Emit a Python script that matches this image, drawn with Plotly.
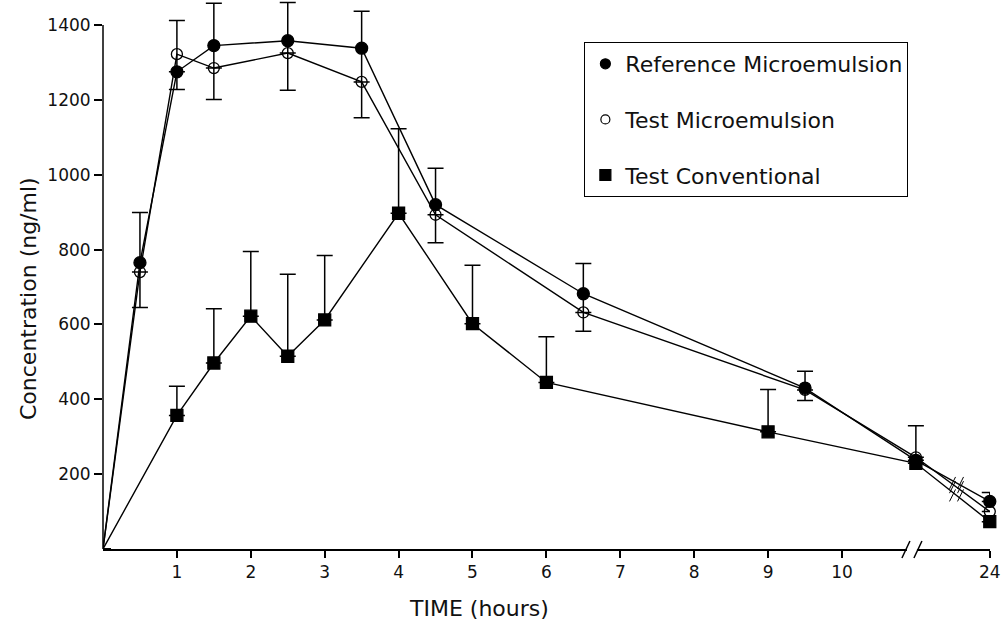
import plotly.graph_objects as go
import numpy as np

# ---------------- data ----------------
ref_time = [0, 0.5, 1, 1.5, 2.5, 3.5, 4.5, 6.5, 9.5, 12, 24]
ref_conc = [0, 765, 1275, 1345, 1358, 1338, 920, 682, 430, 237, 127]
ref_err_up = [0, 134, 0, 113, 102, 99, 97, 81, 45, 0, 24]
ref_err_down = [0, 120, 0, 144, 132, 186, 102, 100, 33, 0, 0]

test_time = [0, 0.5, 1, 1.5, 2.5, 3.5, 4.5, 6.5, 9.5, 12, 24]
test_conc = [0, 740, 1322, 1285, 1325, 1248, 893, 632, 425, 245, 100]
test_err_up = [0, 0, 90, 0, 0, 0, 0, 0, 0, 0, 0]
test_err_down = [0, 0, 94, 0, 0, 0, 0, 0, 0, 0, 0]

conv_time = [0, 1, 1.5, 2, 2.5, 3, 4, 5, 6, 9, 12, 24]
conv_conc = [0, 357, 497, 622, 515, 612, 897, 602, 445, 313, 229, 73]
conv_err_up = [0, 78, 145, 173, 219, 172, 226, 156, 122, 113, 100, 0]
conv_err_down = [0] * 12

tick_hours = [1, 2, 3, 4, 5, 6, 7, 8, 9, 10, 24]
tick_labels = ["1", "2", "3", "4", "5", "6", "7", "8", "9", "10", "24"]
y_ticks = [200, 400, 600, 800, 1000, 1200, 1400]
y_axis_max = 1400

series_names = ["Reference Microemulsion", "Test Microemulsion", "Test Conventional"]


# broken time axis: 0-10 h linear, 10-12 h compressed, 12-24 h compressed
def axis_pos(t):
    t = np.asarray(t, dtype=float)
    return np.where(t <= 10, t, np.where(t <= 12, 10 + (t - 10) / 2, 11 + (t - 12) / 12))


FONT = "DejaVu Sans"
TXT = "#111111"

fig = go.Figure()

err_style = dict(type="data", symmetric=False, color="black", thickness=1.5, width=8)

traces = [
    (ref_time, ref_conc, ref_err_up, ref_err_down, "circle", "black", 12),
    (test_time, test_conc, test_err_up, test_err_down, "circle-open", "black", 11),
    (conv_time, conv_conc, conv_err_up, conv_err_down, "square", "black", 12),
]

for (t, c, eu, ed, sym, col, sz), name in zip(traces, series_names):
    # no marker drawn at the origin (time 0)
    sizes = [0 if tv == 0 else sz for tv in t]
    fig.add_trace(go.Scatter(
        x=axis_pos(t), y=c, mode="lines+markers", name=name, showlegend=False,
        line=dict(color="black", width=1.4),
        marker=dict(symbol=sym, size=sizes, color=col, opacity=1,
                    line=dict(color="black", width=1.3)),
        error_y=dict(array=eu, arrayminus=ed, **err_style),
        cliponaxis=False,
    ))

# legend-only entries (marker only)
leg_syms = [("circle", 10), ("circle-open", 9), ("square", 11)]
for i, (name, (sym, sz)) in enumerate(zip(series_names, leg_syms)):
    fig.add_trace(go.Scatter(
        x=[None], y=[None], mode="markers", name=name, legendgroup=f"g{i}",
        marker=dict(symbol=sym, size=sz, color="black", opacity=1,
                    line=dict(color="black", width=1.2)),
    ))

shapes = []
# y axis line ending at the top tick
shapes.append(dict(type="line", xref="paper", yref="y", x0=0, x1=0, y0=0, y1=y_axis_max,
                   line=dict(color="black", width=1.5), layer="above"))
# axis break marks on x-axis
brk_x = 0.912
shapes.append(dict(type="rect", xref="paper", yref="paper", xsizemode="pixel", ysizemode="pixel",
                   xanchor=brk_x, yanchor=0, x0=-5, x1=5, y0=-3, y1=3,
                   fillcolor="white", line=dict(width=0), layer="above"))
for dx in (-6, 6):
    shapes.append(dict(type="line", xref="paper", yref="paper", xsizemode="pixel", ysizemode="pixel",
                       xanchor=brk_x, yanchor=0, x0=dx - 4, x1=dx + 4, y0=-9, y1=8,
                       line=dict(color="black", width=1.5), layer="above"))

# break marks on the data lines between 12 h and 24 h
brk_pos = 11.55
for t, c in [(ref_time, ref_conc), (test_time, test_conc), (conv_time, conv_conc)]:
    yv = float(np.interp(brk_pos, axis_pos(t), c))
    for dx in (-4, 4):
        shapes.append(dict(type="line", xref="x", yref="y", xsizemode="pixel", ysizemode="pixel",
                           xanchor=brk_pos, yanchor=yv, x0=dx - 3, x1=dx + 3, y0=-6, y1=6,
                           line=dict(color="black", width=1), layer="above"))

fig.update_layout(
    width=1002, height=625,
    margin=dict(l=103, r=9, t=1, b=76),
    paper_bgcolor="white", plot_bgcolor="white",
    font=dict(family=FONT, color=TXT),
    showlegend=True,
    legend=dict(
        x=0.5427, y=(549 - 42) / 548, xanchor="left", yanchor="top",
        bordercolor="black", borderwidth=1, bgcolor="white",
        font=dict(family=FONT, size=22, color=TXT),
        tracegroupgap=24, itemclick=False,
    ),
    xaxis=dict(
        range=[0, 12.003], showgrid=False, zeroline=False,
        showline=True, linecolor="black", linewidth=1.5,
        ticks="outside", ticklen=7, tickwidth=1.5, tickcolor="black",
        tickvals=axis_pos(tick_hours), ticktext=tick_labels,
        ticklabeloverflow="allow",
        tickfont=dict(family=FONT, size=17, color=TXT),
    ),
    yaxis=dict(
        range=[0, 1400 * 548 / 524], showgrid=False, zeroline=False,
        showline=False,
        ticks="outside", ticklen=8, tickwidth=1.5, tickcolor="black",
        tickvals=y_ticks, ticktext=[str(v) for v in y_ticks],
        tickfont=dict(family=FONT, size=17, color=TXT),
    ),
    shapes=shapes,
    annotations=[
        dict(text="TIME (hours)", xref="paper", yref="paper", x=0.4236, y=0,
             xanchor="center", yanchor="middle", yshift=-59, showarrow=False,
             font=dict(family=FONT, size=22, color=TXT)),
        dict(text="Concentration (ng/ml)", xref="paper", yref="paper", x=0, y=0.5,
             xanchor="center", yanchor="middle", xshift=-75, yshift=-24, textangle=-90,
             showarrow=False, font=dict(family=FONT, size=22, color=TXT)),
    ],
)

fig.write_html("out.html", config={"displayModeBar": False},
               post_script="document.body.style.margin='0';")
